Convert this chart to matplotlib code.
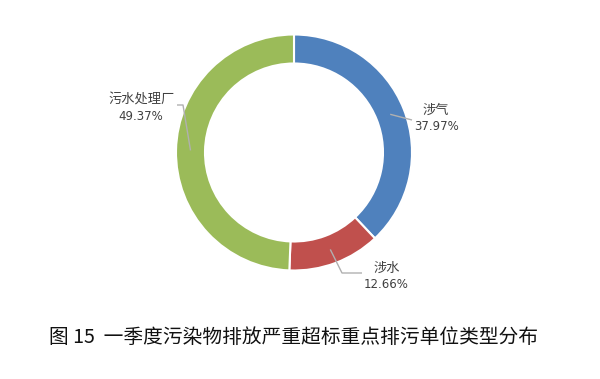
import numpy as np
import matplotlib
matplotlib.use("Agg")
import matplotlib.pyplot as plt

plt.rcParams['font.family'] = ['Noto Sans CJK SC', 'DejaVu Sans']

categories = ['涉气', '涉水', '污水处理厂']
values = [37.97, 12.66, 49.37]
pct_labels = ['37.97%', '12.66%', '49.37%']
colors = ['#4F81BD', '#C0504D', '#9BBB59']
title = '图 15  一季度污染物排放严重超标重点排污单位类型分布'

W, H = 600, 379
fig = plt.figure(figsize=(6, 3.79), dpi=100)
ax = fig.add_axes([0, 0, 1, 1])

cx, cy = 294, H - 152.5
R = 118
ring = 29

wedges, _ = ax.pie(values, colors=colors, startangle=90, counterclock=False,
                   radius=R, center=(cx, cy), frame=True,
                   wedgeprops=dict(width=ring, edgecolor='white', linewidth=1.5))
ax.set_xlim(0, W)
ax.set_ylim(0, H)
ax.set_aspect('equal')
ax.axis('off')

# label layout (pixel coords, y from top): name position, pct position, leader path after anchor
layout = {
    '涉气': dict(name=(436, 110), pct=(437, 127), path=[(412, 120)]),
    '涉水': dict(name=(387, 268), pct=(386, 285), path=[(342, 273), (362, 273)]),
    '污水处理厂': dict(name=(142, 100), pct=(141, 116), path=[(183, 105), (177, 105)]),
}

line_color = '#B0B0B0'
text_color = '#404040'
for w, cat, pl in zip(wedges, categories, pct_labels):
    mid = np.deg2rad((w.theta1 + w.theta2) / 2)
    rm = R - ring / 2
    ax_pt = (cx + rm * np.cos(mid), cy + rm * np.sin(mid))
    L = layout[cat]
    xs = [ax_pt[0]] + [p[0] for p in L['path']]
    ys = [ax_pt[1]] + [H - p[1] for p in L['path']]
    ax.plot(xs, ys, color=line_color, lw=1.0, solid_capstyle='butt', zorder=5)
    ax.text(L['name'][0], H - L['name'][1], cat, ha='center', va='center',
            fontsize=9.5, color=text_color)
    ax.text(L['pct'][0], H - L['pct'][1], pl, ha='center', va='center',
            fontsize=8.5, color=text_color, family=['DejaVu Sans'])

ax.text(294, H - 337, title, ha='center', va='center', fontsize=14.2,
        color='#111111', fontweight='medium', family=['Noto Sans CJK SC', 'DejaVu Sans'])

fig.savefig('out.png', dpi=100)
